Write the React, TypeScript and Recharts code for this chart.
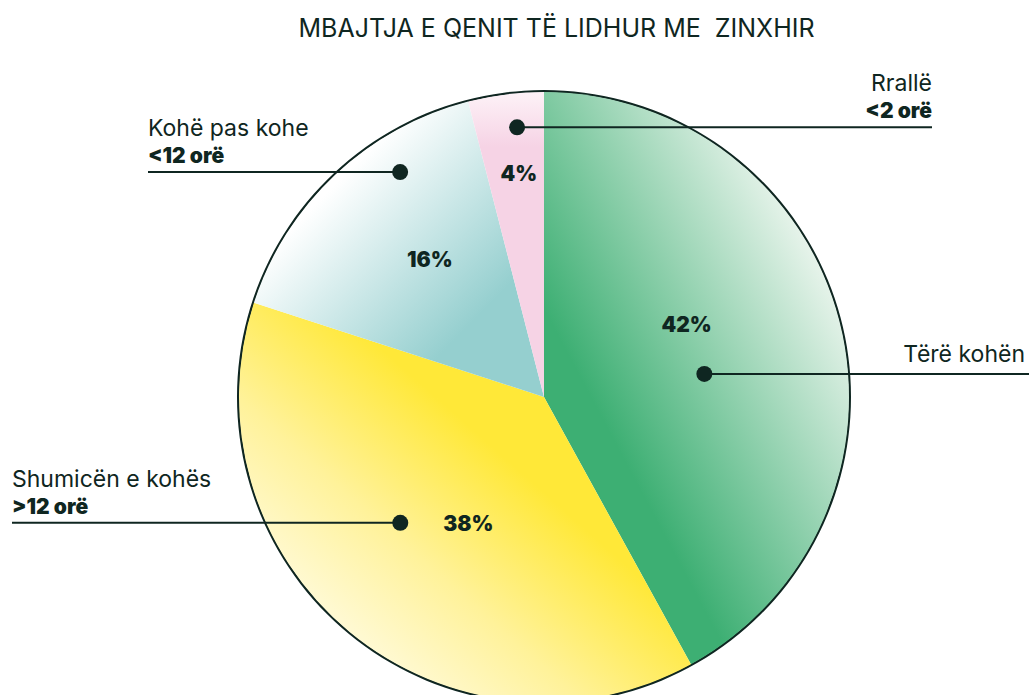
import React from 'react';
import { PieChart, Pie, Cell } from 'recharts';

const categories = ['Tërë kohën', 'Shumicën e kohës', 'Kohë pas kohe', 'Rrallë'];
const shares = [42, 38, 16, 4];
const hours = ['', '>12 orë', '<12 orë', '<2 orë'];
const pctLabels = ['42%', '38%', '16%', '4%'];

const chartData = categories.map((name, i) => ({ name, value: shares[i] }));
const ringData = [{ name: 'outline', value: 1 }];

const INK = '#0f2621';
const FONT = 'Inter, "Noto Sans", sans-serif';

// where the percentage, the dot and the leader line of each slice go
const callouts = [
  { pctAngle: 27, pctR: 160, dotAngle: 8.2, dotR: 162, endX: 1029, textX: 1025, anchor: 'end' },
  { pctAngle: -121, pctR: 147, dotAngle: -138.8, dotR: 191, endX: 12, textX: 12, anchor: 'start' },
  { pctAngle: 129.6, pctR: 179, dotAngle: 122.6, dotR: 267, endX: 148, textX: 148, anchor: 'start' },
  { pctAngle: 96.4, pctR: 225, dotAngle: 95.7, dotR: 271, endX: 932, textX: 932, anchor: 'end' },
];

const fills = ['url(#gGreen)', 'url(#gYellow)', 'url(#gBlue)', 'url(#gPink)'];

const RAD = Math.PI / 180;
const polar = (cx: number, cy: number, r: number, a: number) => ({
  x: cx + r * Math.cos(a * RAD),
  y: cy - r * Math.sin(a * RAD),
});

const renderLabel = (props: any) => {
  const { cx, cy, index } = props;
  const c = callouts[index];
  const p = polar(cx, cy, c.pctR, c.pctAngle);
  const d = polar(cx, cy, c.dotR, c.dotAngle);
  const hasHours = hours[index] !== '';
  return (
    <g>
      <line x1={d.x} y1={d.y} x2={c.endX} y2={d.y} stroke={INK} strokeWidth={2} />
      <circle cx={d.x} cy={d.y} r={8} fill={INK} />
      <text x={p.x} y={p.y} textAnchor="middle" dominantBaseline="central" fill={INK}
        fontFamily={FONT} fontWeight={900} fontSize={21}>
        {pctLabels[index]}
      </text>
      <text x={c.textX} y={d.y - (hasHours ? 36 : 12)} textAnchor={c.anchor as any} fill={INK}
        fontFamily={FONT} fontWeight={400} fontSize={23}>
        {categories[index]}
      </text>
      {hasHours && (
        <text x={c.textX} y={d.y - 9} textAnchor={c.anchor as any} fill={INK}
          fontFamily={FONT} fontWeight={900} fontSize={21}>
          {hours[index]}
        </text>
      )}
    </g>
  );
};

export default function App() {
  return (
    <div style={{ position: 'absolute', left: 0, top: 0, width: 1029, height: 695, background: '#fff', overflow: 'hidden' }}>
      <div style={{ position: 'absolute', left: 0, top: 13, width: 1113, textAlign: 'center', fontFamily: FONT, fontSize: 25, color: INK, whiteSpace: 'pre' }}>
        {'MBAJTJA E QENIT TË LIDHUR ME  ZINXHIR'}
      </div>
      <PieChart width={1029} height={695} margin={{ top: 0, right: 0, bottom: 0, left: 0 }}>
        <defs>
          <linearGradient id="gGreen" x1="0" y1="1" x2="1" y2="0">
            <stop offset="0.31" stopColor="#3daf73" />
            <stop offset="0.82" stopColor="#edf6ef" />
          </linearGradient>
          <linearGradient id="gYellow" x1="1" y1="0" x2="0" y2="1">
            <stop offset="0.4" stopColor="#ffe838" />
            <stop offset="0.62" stopColor="#fff29a" />
            <stop offset="0.92" stopColor="#ffffff" />
          </linearGradient>
          <linearGradient id="gBlue" x1="1" y1="1" x2="0" y2="0">
            <stop offset="0.25" stopColor="#95cfcf" />
            <stop offset="0.72" stopColor="#ffffff" />
          </linearGradient>
          <linearGradient id="gPink" x1="0" y1="0" x2="0" y2="1">
            <stop offset="0" stopColor="#fdf2f7" />
            <stop offset="0.18" stopColor="#f6d3e5" />
          </linearGradient>
        </defs>
        <Pie
          data={ringData}
          dataKey="value"
          cx={544}
          cy={397}
          innerRadius={304.5}
          outerRadius={307}
          startAngle={90}
          endAngle={-270}
          fill={INK}
          stroke="none"
          isAnimationActive={false}
        />
        <Pie
          data={chartData}
          dataKey="value"
          cx={544}
          cy={397}
          outerRadius={305}
          startAngle={90}
          endAngle={-270}
          stroke="none"
          label={renderLabel}
          labelLine={false}
          isAnimationActive={false}
        >
          {chartData.map((entry, i) => (
            <Cell key={`cell-${i}`} fill={fills[i]} />
          ))}
        </Pie>
      </PieChart>
    </div>
  );
}
